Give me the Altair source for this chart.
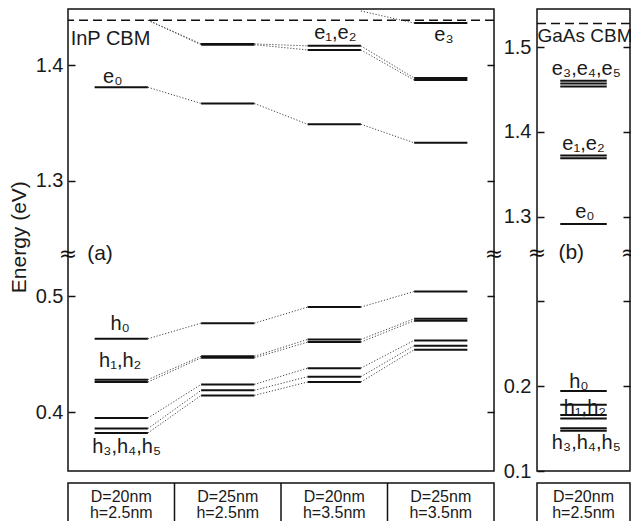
import altair as alt
import pandas as pd

FONT = "Liberation Sans, Arial, Helvetica, sans-serif"

# ---------------- data ----------------
# bottom table
inp_D = ["D=20nm", "D=25nm", "D=20nm", "D=25nm"]
inp_H = ["h=2.5nm", "h=2.5nm", "h=3.5nm", "h=3.5nm"]
gaas_D = ["D=20nm"]
gaas_H = ["h=2.5nm"]

# conduction band minima (eV)
inp_cbm = 1.439
gaas_cbm = 1.528

# InP dots (panel a): energy per column (eV); None = no bound level
inp_e0 = [1.381, 1.367, 1.349, 1.333]
inp_e1 = [None, 1.4185, 1.4168, 1.3890]
inp_e2 = [None, 1.4178, 1.4133, 1.3872]
inp_e3 = [None, None, None, 1.4365]
inp_h0 = [0.4634, 0.4769, 0.4908, 0.5043]
inp_h1 = [0.4280, 0.4483, 0.4628, 0.4807]
inp_h2 = [0.4259, 0.4469, 0.4605, 0.4790]
inp_h3 = [0.3948, 0.4239, 0.4380, 0.4620]
inp_h4 = [0.3857, 0.4188, 0.4306, 0.4574]
inp_h5 = [0.3819, 0.4144, 0.4260, 0.4539]
# unbound states: where the dotted guide starts (at / above the CBM)
inp_e1_free = [1.439, None, None, None]
inp_e2_free = [1.439, None, None, None]
inp_e3_free = [None, None, 1.447, None]

# GaAs dot (panel b)
gaas_e = [1.2914, 1.3722, 1.3690, 1.4605, 1.4570, 1.4535]
gaas_h = [0.1944, 0.1782, 0.1660, 0.1619, 0.1505, 0.1476]

# level labels (x in column units, y = energy of text baseline)
inp_lab_text = ["e₀", "e₁,e₂", "e₃", "h₀", "h₁,h₂", "h₃,h₄,h₅"]
inp_lab_x = [0.42, 2.51, 3.53, 0.49, 0.49, 0.55]
inp_lab_E = [1.385, 1.4231, 1.4210, 0.4706, 0.4394, 0.3645]
gaas_lab_text = ["e₃,e₄,e₅", "e₁,e₂", "e₀", "h₀", "h₁,h₂", "h₃,h₄,h₅"]
gaas_lab_x = [0.53, 0.50, 0.515, 0.45, 0.515, 0.53]
gaas_lab_E = [1.4666, 1.3782, 1.298, 0.198, 0.1678, 0.1254]
cbm_text_a, cbm_lab_a = "InP CBM", (0.025, 1.4173)
cbm_text_b, cbm_lab_b = "GaAs CBM", (0.005, 1.506)

# broken axis: upper part shifted down by this offset
OFF_A, OFF_B = 0.7, 0.9
BREAK_A, BREAK_B = 0.537, 0.357          # break position (plot units)
TICKS_A = [0.4, 0.5, 0.6, 0.7]
TICKS_B = [0.1, 0.2, 0.3, 0.4, 0.5, 0.6]

W_A, W_B, H = 426, 93, 462
ya = alt.Scale(domain=[0.349, 0.7487], nice=False, zero=False)
yb = alt.Scale(domain=[0.1, 0.645], nice=False, zero=False)
xa = alt.Scale(domain=[0, 4], nice=False, zero=False)
xb = alt.Scale(domain=[0, 1], nice=False, zero=False)


def tp(E, off):
    return E - off if E > 1 else E


def levels_df(series, off):
    rows = []
    for vals in series:
        for c, v in enumerate(vals):
            if v is not None:
                rows.append({"x0": c + 0.25, "x1": c + 0.75, "y": tp(v, off)})
    return pd.DataFrame(rows)


def links_df(series, frees, off):
    rows = []
    for vals, free in zip(series, frees):
        full = [f if f is not None else v for v, f in zip(vals, free)]
        for c in range(len(full) - 1):
            if full[c] is not None and full[c + 1] is not None:
                rows.append({"xa": c + 0.75, "xb": c + 1.25,
                             "y1": tp(full[c], off), "y2": tp(full[c + 1], off)})
    return pd.DataFrame(rows)


def yaxis(values, orient, expr=None, title=None, pad=5, title_y=None):
    kw = dict(values=values, orient=orient, domain=False, ticks=True,
              tickSize=7, offset=-7, tickColor="#111", tickWidth=1.5,
              grid=False, labelFont=FONT, labelFontSize=20, labelColor="#1a1a1a",
              labelPadding=pad, title=title)
    if expr is None:
        kw["labels"] = False
    else:
        kw["labelExpr"] = expr
    if title:
        kw.update(titleFont=FONT, titleFontSize=21, titleFontWeight="normal",
                  titleColor="#1a1a1a", titlePadding=5.5)
        if title_y is not None:
            kw["titleY"] = title_y
    return alt.Axis(**kw)


def panel(series, frees, off, xs, ys, width, cbm, cbm_lab, cbm_text, cbm_size,
          lab_text, lab_x, lab_E, brk, xmax, tag, tag_x, ticks, expr,
          rticks, title=None, pad=5):
    lv = levels_df(series, off)
    lk = links_df(series, frees, off) if frees else None
    left = yaxis(ticks, "left", expr=expr, title=title, pad=pad,
                 title_y=H / 2 - 3.3)
    right = yaxis(rticks, "right")

    levels = alt.Chart(lv).mark_rule(strokeWidth=2, color="#111").encode(
        x=alt.X("x0:Q", scale=xs, axis=None), x2="x1",
        y=alt.Y("y:Q", scale=ys, axis=left))
    layers = [levels]

    cb = pd.DataFrame({"y": [tp(cbm, off)]})
    dash = alt.Chart(cb).mark_rule(strokeDash=[9, 5], strokeWidth=1.5,
                                   color="#111").encode(
        y=alt.Y("y:Q", scale=ys, axis=right))
    layers.append(dash)

    if lk is not None and len(lk):
        links = alt.Chart(lk).mark_rule(strokeDash=[1.2, 1.8], strokeWidth=1,
                                        color="#444").encode(
            x=alt.X("xa:Q", scale=xs, axis=None), x2="xb",
            y=alt.Y("y1:Q", scale=ys, axis=None), y2="y2")
        layers.append(links)

    labs = pd.DataFrame({"t": lab_text, "x": lab_x,
                         "y": [tp(e, off) for e in lab_E]})
    layers.append(alt.Chart(labs).mark_text(
        font=FONT, fontSize=20, color="#1a1a1a", align="center",
        baseline="alphabetic").encode(
        x=alt.X("x:Q", scale=xs, axis=None),
        y=alt.Y("y:Q", scale=ys, axis=None), text="t:N"))

    cl = pd.DataFrame({"t": [cbm_text], "x": [cbm_lab[0]],
                       "y": [tp(cbm_lab[1], off)]})
    layers.append(alt.Chart(cl).mark_text(
        font=FONT, fontSize=cbm_size, color="#1a1a1a", align="left",
        baseline="alphabetic").encode(
        x=alt.X("x:Q", scale=xs, axis=None),
        y=alt.Y("y:Q", scale=ys, axis=None), text="t:N"))

    tg = pd.DataFrame({"t": [tag], "x": [tag_x], "y": [brk]})
    layers.append(alt.Chart(tg).mark_text(
        font=FONT, fontSize=21, color="#1a1a1a", align="left",
        baseline="middle").encode(
        x=alt.X("x:Q", scale=xs, axis=None),
        y=alt.Y("y:Q", scale=ys, axis=None), text="t:N"))

    bk = pd.DataFrame({"t": ["≈", "≈"], "x": [0, xmax], "y": [brk, brk]})
    layers.append(alt.Chart(bk).mark_text(
        font="DejaVu Sans", fontSize=22, color="#111", align="center",
        baseline="middle").encode(
        x=alt.X("x:Q", scale=xs, axis=None),
        y=alt.Y("y:Q", scale=ys, axis=None), text="t:N"))

    return alt.layer(*layers).resolve_axis(y="independent").properties(
        width=width, height=H)


expr_a = ("datum.value > 0.55 ? format(datum.value + 0.7, '.1f') : "
          "format(datum.value, '.1f')")
expr_b = ("abs(datum.value - 0.3) < 0.01 ? '' : (datum.value > 0.35 ? "
          "format(datum.value + 0.9, '.1f') : format(datum.value, '.1f'))")

panel_a = panel(
    [inp_e0, inp_e1, inp_e2, inp_e3, inp_h0, inp_h1, inp_h2, inp_h3, inp_h4, inp_h5],
    [[None] * 4, inp_e1_free, inp_e2_free, inp_e3_free] + [[None] * 4] * 6,
    OFF_A, xa, ya, W_A, inp_cbm, cbm_lab_a, cbm_text_a, 20,
    inp_lab_text, inp_lab_x, inp_lab_E, BREAK_A, 4, "(a)", 0.18,
    TICKS_A, expr_a, TICKS_A, title="Energy (eV)", pad=5)

panel_b = panel(
    [[v] for v in gaas_e + gaas_h], None,
    OFF_B, xb, yb, W_B, gaas_cbm, cbm_lab_b, cbm_text_b, 19,
    gaas_lab_text, gaas_lab_x, gaas_lab_E, BREAK_B, 1, "(b)", 0.23,
    TICKS_B, expr_b, TICKS_B[1:], pad=6)


def table(D, Hs, xs, width):
    df = pd.DataFrame({"x": [i + 0.5 for i in range(len(D))], "D": D, "h": Hs})
    t1 = alt.Chart(df).mark_text(font=FONT, fontSize=16, color="#1a1a1a",
                                 baseline="middle").encode(
        x=alt.X("x:Q", scale=xs, axis=None), y=alt.value(14), text="D:N")
    t2 = alt.Chart(df).mark_text(font=FONT, fontSize=16, color="#1a1a1a",
                                 baseline="middle").encode(
        x=alt.X("x:Q", scale=xs, axis=None), y=alt.value(30), text="h:N")
    layers = [t1, t2]
    if len(D) > 1:
        dv = pd.DataFrame({"x": list(range(1, len(D)))})
        layers.append(alt.Chart(dv).mark_rule(strokeWidth=1.5, color="#111").encode(
            x=alt.X("x:Q", scale=xs, axis=None)))
    return alt.layer(*layers).properties(width=width, height=50)


table_a = table(inp_D, inp_H, xa, W_A)
table_b = table(gaas_D, gaas_H, xb, W_B)

chart = alt.ConcatChart(
    concat=[panel_a, panel_b, table_a, table_b],
    columns=2,
    spacing={"row": 12, "column": 43},
    bounds="flush",
).properties(
    autosize=alt.AutoSizeParams(type="none"),
    padding={"left": 60, "top": 1, "right": 563, "bottom": 512},
    background="white",
).configure_view(stroke="#111", strokeWidth=1.5)

chart.save("out.html", embed_options={"renderer": "svg", "actions": False})
